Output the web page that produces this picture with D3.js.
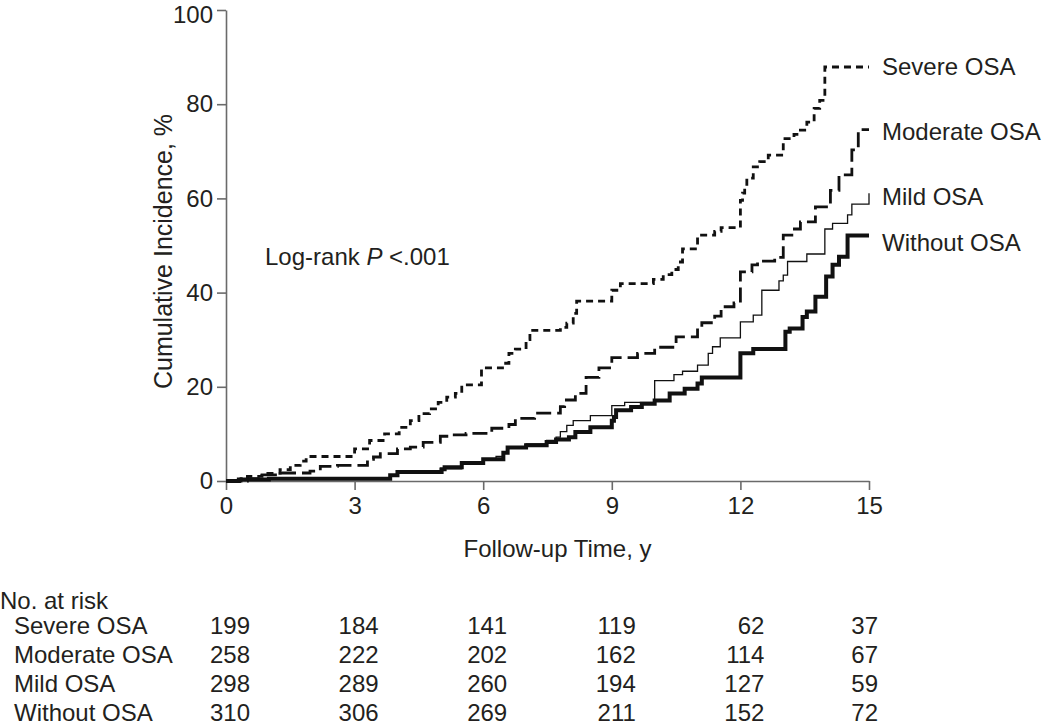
<!DOCTYPE html>
<html>
<head>
<meta charset="utf-8">
<script src="https://cdn.jsdelivr.net/npm/d3@7"></script>
<style>
  body { margin: 0; background: #fff; }
  text { font-family: "Liberation Sans", Arial, Helvetica, sans-serif; fill: #231f20; }
</style>
</head>
<body>
<svg id="chart" width="1050" height="725"></svg>
<script>
// ---- Data (time in years, cumulative incidence in %) ----
const severeOSA = [[0,0],[0.35,0.5],[0.5,1.0],[0.84,1.6],[1.26,2.4],[1.5,3.3],[1.73,4.2],[1.87,5.2],[3.0,6.8],[3.35,8.6],[3.7,10.0],[4.04,11.4],[4.3,12.8],[4.5,14.3],[4.75,15.3],[4.95,16.7],[5.15,17.8],[5.35,18.6],[5.5,20.4],[5.96,24.0],[6.45,25.0],[6.6,27.1],[6.75,28.0],[7.0,30.0],[7.09,32.0],[7.8,32.6],[7.95,33.5],[8.1,35.6],[8.18,38.2],[9.0,40.5],[9.2,41.9],[9.97,42.8],[10.2,43.8],[10.4,44.9],[10.55,46.5],[10.65,49.3],[11.0,52.2],[11.4,53.0],[11.55,53.8],[12.0,59.6],[12.05,61.1],[12.1,62.4],[12.15,64.3],[12.3,66.7],[12.45,67.8],[12.65,69.2],[13.0,72.7],[13.25,73.6],[13.4,74.5],[13.55,76.2],[13.72,79.1],[13.85,80.8],[13.97,87.9],[15,87.9]];
const moderateOSA = [[0,0],[0.5,0.5],[0.84,1.3],[1.26,1.7],[1.96,2.1],[2.2,3.1],[2.6,3.3],[3.3,4.6],[3.44,5.1],[3.6,5.8],[4.0,6.8],[4.3,7.2],[4.6,8.2],[5.0,9.5],[5.2,9.8],[5.6,10.1],[6.2,11.2],[6.6,12.0],[6.75,13.3],[7.2,14.4],[7.8,15.8],[7.9,17.2],[8.15,18.6],[8.4,22.0],[8.7,24.0],[9.0,26.2],[9.6,27.1],[10.0,28.4],[10.5,30.6],[11.0,32.5],[11.1,33.6],[11.4,35.0],[11.55,37.0],[11.85,37.8],[12.0,44.4],[12.27,45.9],[12.4,46.7],[12.8,47.5],[13.0,52.2],[13.2,53.5],[13.4,55.0],[13.75,58.2],[14.1,61.7],[14.3,65.0],[14.6,70.3],[14.75,74.6],[15,74.6]];
const mildOSA = [[0,0],[0.3,0.3],[1.0,0.5],[3.83,1.2],[4.0,1.9],[5.0,2.6],[5.5,3.7],[6.0,4.6],[6.3,5.2],[6.47,6.0],[6.57,7.1],[7.0,7.9],[7.48,8.6],[7.7,9.3],[7.8,10.5],[7.95,11.8],[8.1,12.8],[8.5,13.9],[9.0,16.0],[9.3,16.7],[10.0,21.3],[10.45,22.6],[10.65,23.3],[11.0,24.6],[11.25,27.1],[11.35,28.5],[11.53,30.4],[12.0,33.8],[12.3,35.2],[12.5,40.5],[12.9,42.5],[13.0,43.7],[13.1,46.6],[13.55,48.2],[13.97,53.5],[14.15,54.7],[14.5,56.5],[14.6,58.8],[15,61.1]];
const withoutOSA = [[0,0],[0.3,0.3],[1.0,0.5],[3.83,1.2],[4.0,1.9],[5.03,2.5],[5.1,2.9],[5.5,3.8],[6.0,4.6],[6.47,6.0],[6.57,7.1],[7.0,7.6],[7.48,8.3],[7.7,8.8],[8.0,9.3],[8.15,10.4],[8.5,11.4],[9.0,12.8],[9.05,13.6],[9.1,15.0],[9.45,15.7],[9.7,16.4],[10.0,17.1],[10.35,18.6],[10.7,19.6],[11.0,20.7],[11.1,22.0],[12.0,27.1],[12.3,28.0],[13.05,31.7],[13.15,32.4],[13.45,34.8],[13.55,36.0],[13.75,39.1],[14.0,43.4],[14.15,45.9],[14.3,47.6],[14.5,52.1],[15,52.1]];

const seriesNames = ["Severe OSA", "Moderate OSA", "Mild OSA", "Without OSA"];
const xTicks = [0, 3, 6, 9, 12, 15];
const yTicks = [0, 20, 40, 60, 80, 100];

const riskSevere   = [199, 184, 141, 119, 62, 37];
const riskModerate = [258, 222, 202, 162, 114, 67];
const riskMild     = [298, 289, 260, 194, 127, 59];
const riskWithout  = [310, 306, 269, 211, 152, 72];

// ---- Layout & styles ----
const svg = d3.select("#chart");
const x = d3.scaleLinear().domain([0, 15]).range([226, 869]);
const y = d3.scaleLinear().domain([0, 100]).range([481, 10]);
const axisColor = "#6a6a6a";
const fontSize = 24;

const series = [
  { name: seriesNames[0], data: severeOSA,   dash: "7,5",  width: 2.8, labelNudge: 0 },
  { name: seriesNames[1], data: moderateOSA, dash: "15,6", width: 2.8, labelNudge: 2 },
  { name: seriesNames[2], data: mildOSA,     dash: null,   width: 1.3, labelNudge: 4 },
  { name: seriesNames[3], data: withoutOSA,  dash: null,   width: 4,   labelNudge: 7 }
];

// Axes
const yAxis = svg.append("g")
  .attr("transform", `translate(${x(0)},0)`)
  .call(d3.axisLeft(y).tickValues(yTicks).tickSize(9).tickSizeOuter(0).tickPadding(4));
const xAxis = svg.append("g")
  .attr("transform", `translate(0,${y(0)})`)
  .call(d3.axisBottom(x).tickValues(xTicks).tickSize(9).tickSizeOuter(0).tickPadding(7));
[yAxis, xAxis].forEach(g => {
  g.selectAll("path, line").attr("stroke", axisColor).attr("stroke-width", 1.6);
  g.selectAll("text").attr("font-size", fontSize).style("font-family", '"Liberation Sans", Arial, sans-serif').attr("fill", "#231f20");
});
// keep the top tick label inside the picture
yAxis.selectAll(".tick").filter(d => d === 100).select("text").attr("dy", "0.5em");

// Axis titles
svg.append("text")
  .attr("transform", `translate(172,${(y(0) + y(100)) / 2 + 6}) rotate(-90)`)
  .attr("text-anchor", "middle")
  .attr("font-size", 25)
  .text("Cumulative Incidence, %");
svg.append("text")
  .attr("x", (x(0) + x(15)) / 2 + 10)
  .attr("y", 557)
  .attr("text-anchor", "middle")
  .attr("font-size", fontSize)
  .text("Follow-up Time, y");

// Curves
const line = d3.line()
  .x(d => x(d[0]))
  .y(d => y(d[1]))
  .curve(d3.curveStepAfter);

series.slice().reverse().forEach(s => {
  svg.append("path")
    .datum(s.data)
    .attr("fill", "none")
    .attr("stroke", "#111")
    .attr("stroke-width", s.width)
    .attr("stroke-dasharray", s.dash)
    .attr("d", line);
});

// Curve labels
series.forEach(s => {
  const last = s.data[s.data.length - 1];
  svg.append("text")
    .attr("x", x(15) + 13)
    .attr("y", y(last[1]) + 8 + s.labelNudge)
    .attr("font-size", fontSize)
    .text(s.name);
});

// Log-rank annotation
const lr = svg.append("text")
  .attr("x", 265)
  .attr("y", 265)
  .attr("font-size", fontSize);
lr.append("tspan").text("Log-rank ");
lr.append("tspan").attr("font-style", "italic").text("P");
lr.append("tspan").text(" <.001");

// Number at risk table
svg.append("text").attr("x", 0).attr("y", 609).attr("font-size", fontSize).text("No. at risk");
const riskRows = [riskSevere, riskModerate, riskMild, riskWithout];
riskRows.forEach((row, r) => {
  const rowY = 634 + r * 29;
  svg.append("text").attr("x", 14).attr("y", rowY).attr("font-size", fontSize).text(seriesNames[r]);
  row.forEach((v, i) => {
    const last = i === xTicks.length - 1;
    svg.append("text")
      .attr("x", x(xTicks[i]) + (last ? 9 : 24))
      .attr("y", rowY)
      .attr("text-anchor", "end")
      .attr("font-size", fontSize)
      .text(v);
  });
});
</script>
</body>
</html>
